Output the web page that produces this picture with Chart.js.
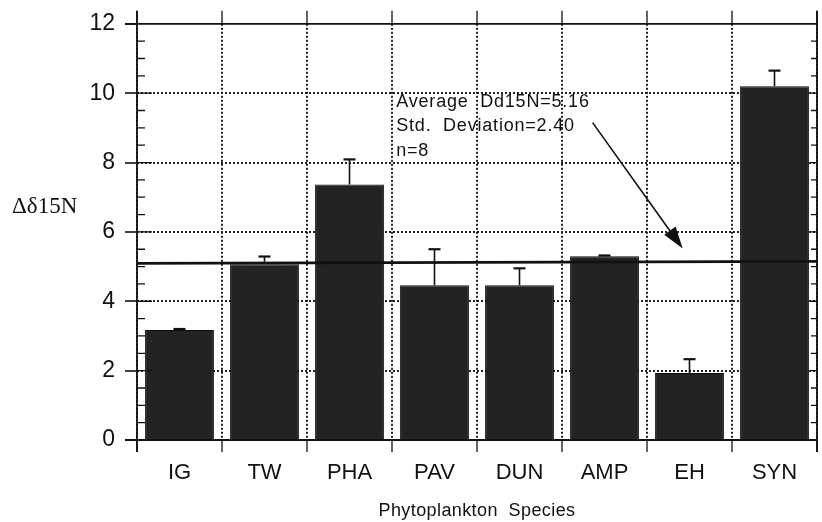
<!DOCTYPE html>
<html>
<head>
<meta charset="utf-8">
<script src="https://cdn.jsdelivr.net/npm/chart.js@4.4.1/dist/chart.umd.min.js"></script>
<style>
  html, body { margin: 0; padding: 0; background: #fff; }
  #wrap { width: 822px; height: 522px; }
</style>
</head>
<body>
<div id="wrap"><canvas id="c15n"></canvas></div>
<script>
var species = ['IG', 'TW', 'PHA', 'PAV', 'DUN', 'AMP', 'EH', 'SYN'];
var d15N = [3.17, 5.07, 7.37, 4.46, 4.46, 5.30, 1.93, 10.20];
var d15Nerr = [0.03, 0.22, 0.72, 1.04, 0.49, 0.02, 0.40, 0.45];
var yTicks = [0, 2, 4, 6, 8, 10, 12];
var averageLine = 5.12;
var noteLines = ['Average  Dd15N=5.16', 'Std.  Deviation=2.40', 'n=8'];

var ink = '#111';

// frame, minor ticks, error bars, mean line, note + arrow, axis titles
var extras = {
    id: 'extras',
    afterDatasetsDraw: function (chart) {
        var c = chart.ctx, a = chart.chartArea;
        var x = chart.scales.x, y = chart.scales.y;
        c.save();
        c.strokeStyle = ink;
        c.fillStyle = ink;

        // error bars
        d15N.forEach(function (v, i) {
            if (!d15Nerr[i]) return;
            var px = x.getPixelForValue(i);
            var y0 = y.getPixelForValue(v), y1 = y.getPixelForValue(v + d15Nerr[i]);
            c.lineWidth = 1.6;
            c.beginPath();
            c.moveTo(px, y0); c.lineTo(px, y1);
            c.stroke();
            c.lineWidth = 2.2;
            c.beginPath();
            c.moveTo(px - 6, y1); c.lineTo(px + 6, y1);
            c.stroke();
        });

        // frame
        c.lineWidth = 1.8;
        c.beginPath();
        c.moveTo(a.left - 12, a.top); c.lineTo(a.right, a.top);
        c.moveTo(a.left - 12, a.bottom); c.lineTo(a.right, a.bottom);
        c.moveTo(a.left, a.top - 13); c.lineTo(a.left, a.bottom + 12);
        c.moveTo(a.right, a.top - 13); c.lineTo(a.right, a.bottom + 12);
        c.stroke();

        // top ticks at category boundaries
        c.lineWidth = 1.3;
        c.beginPath();
        for (var k = 0; k <= species.length; k++) {
            var bx = x.getPixelForValue(k - 0.5);
            c.moveTo(bx, a.top - 13); c.lineTo(bx, a.top);
        }
        // inward ticks every 0.5, longer at labelled values
        for (var t = 0.5; t < 12; t += 0.5) {
            var py = y.getPixelForValue(t);
            var len = (t % 2 === 0) ? 15 : 8;
            c.moveTo(a.left, py); c.lineTo(a.left + len, py);
            c.moveTo(a.right, py); c.lineTo(a.right - 6, py);
        }
        c.stroke();

        // average line
        c.lineWidth = 2.6;
        c.beginPath();
        var ay = y.getPixelForValue(averageLine);
        c.moveTo(a.left, ay + 1); c.lineTo(a.right, ay - 1);
        c.stroke();

        // note text
        c.font = '18px "Liberation Sans", Arial, sans-serif';
        c.letterSpacing = '0.8px';
        c.textAlign = 'left';
        c.textBaseline = 'middle';
        var noteY = [9.73, 9.04, 8.32];
        noteLines.forEach(function (s, i) {
            c.fillText(s, x.getPixelForValue(2.55), y.getPixelForValue(noteY[i]));
        });
        c.letterSpacing = '0px';

        // arrow
        var sx = x.getPixelForValue(4.86), sy = y.getPixelForValue(9.15);
        var ex = x.getPixelForValue(5.92), ey = y.getPixelForValue(5.52);
        var ang = Math.atan2(ey - sy, ex - sx);
        c.lineWidth = 1.6;
        c.beginPath();
        c.moveTo(sx, sy);
        c.lineTo(ex - 18 * Math.cos(ang), ey - 18 * Math.sin(ang));
        c.stroke();
        c.beginPath();
        c.moveTo(ex, ey);
        c.lineTo(ex - 22 * Math.cos(ang) + 7 * Math.sin(ang), ey - 22 * Math.sin(ang) - 7 * Math.cos(ang));
        c.lineTo(ex - 22 * Math.cos(ang) - 7 * Math.sin(ang), ey - 22 * Math.sin(ang) + 7 * Math.cos(ang));
        c.closePath();
        c.fill();

        // axis titles
        c.font = '23px "Liberation Serif", "Times New Roman", serif';
        c.textBaseline = 'middle';
        c.fillText('\u0394\u03b415N', 12, y.getPixelForValue(6.72));
        c.font = '18px "Liberation Sans", Arial, sans-serif';
        c.letterSpacing = '0.4px';
        c.textAlign = 'center';
        c.textBaseline = 'alphabetic';
        c.fillText('Phytoplankton  Species', (a.left + a.right) / 2, 516);
        c.restore();
    }
};

new Chart(document.getElementById('c15n'), {
    type: 'bar',
    plugins: [extras],
    data: {
        labels: species,
        datasets: [{
            data: d15N,
            backgroundColor: '#232323',
            borderColor: '#0c0c0c',
            borderWidth: 1,
            barPercentage: 0.81,
            categoryPercentage: 1,
        }]
    },
    options: {
        responsive: true,
        maintainAspectRatio: false,
        animation: false,
        layout: { padding: { top: 23, right: 5, left: 0, bottom: 0 } },
        plugins: {
            legend: { display: false },
            tooltip: { enabled: false },
        },
        scales: {
            x: {
                offset: true,
                grid: {
                    offset: true,
                    color: '#222',
                    lineWidth: 2,
                    tickColor: ink,
                    tickLength: 12,
                    tickWidth: 1.3,
                },
                border: { display: false, dash: [2, 2] },
                ticks: {
                    color: ink,
                    padding: 8,
                    font: { family: '"Liberation Sans", Arial, sans-serif', size: 22 },
                },
                afterFit: function (s) { s.height = 82; },
            },
            y: {
                min: 0,
                max: 12,
                afterBuildTicks: function (s) {
                    s.ticks = yTicks.map(function (v) { return { value: v }; });
                },
                grid: {
                    color: function (ctx) {
                        var v = ctx.tick && ctx.tick.value;
                        return (v === 0 || v === 12) ? 'rgba(0,0,0,0)' : '#222';
                    },
                    lineWidth: 2,
                    tickColor: ink,
                    tickLength: 12,
                    tickWidth: 1.6,
                },
                border: { display: false, dash: [2, 2] },
                ticks: {
                    color: ink,
                    padding: 10,
                    font: { family: '"Liberation Sans", Arial, sans-serif', size: 23 },
                },
                afterFit: function (s) { s.width = 137; },
            },
        },
    },
});
</script>
</body>
</html>
